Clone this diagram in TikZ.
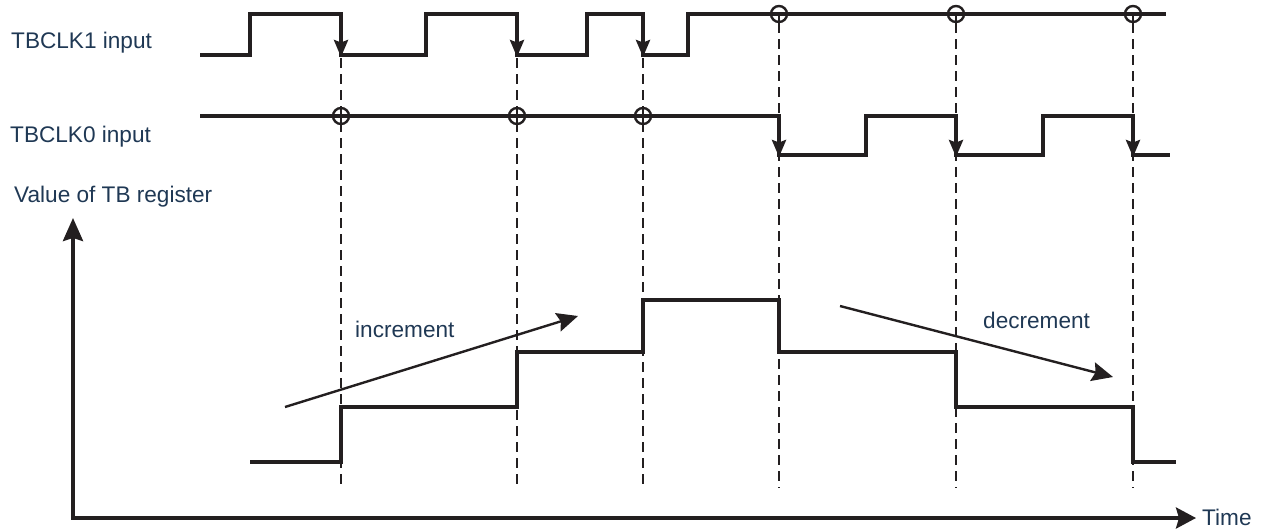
\documentclass[tikz,border=0pt]{standalone}
\usepackage{fontspec}
\setmainfont{Liberation Sans}
\usetikzlibrary{arrows.meta}
\definecolor{labelblue}{RGB}{31,56,84}
\definecolor{inkgray}{RGB}{35,31,32}

\begin{document}
\begin{tikzpicture}[x=1pt, y=-1pt, line join=miter,
    every node/.style={font=\fontsize{22.6}{27}\selectfont, text=labelblue, inner sep=0pt},
    sig/.style={inkgray, line width=3.4pt},
    guide/.style={inkgray, line width=2.8pt, dash pattern=on 10pt off 6pt},
    fall/.style={inkgray, line width=3.4pt, -{Stealth[length=17pt, width=14pt, inset=2.5pt]}},
    ring/.style={inkgray, line width=2.4pt},
    trend/.style={inkgray, line width=2.4pt, -{Stealth[length=21pt, width=19pt, inset=3pt]}},
    axis/.style={inkgray, line width=3.5pt}]
    \useasboundingbox (0,0) rectangle (1271,531);

    % Labels
    \node[anchor=base west] (clk1) at (11,48) {TBCLK1 input};
    \node[anchor=base west] (clk0) at (10,142) {TBCLK0 input};
    \node[anchor=base west] (tbval) at (14,202) {Value of TB register};
    \node[anchor=base west] (inc) at (355,337) {increment};
    \node[anchor=base west] (dec) at (983,328) {decrement};
    \node[anchor=base west] (time) at (1202,525) {Time};

    % Guide lines
    \foreach \x in {341,517,643} {
        \draw[guide] (\x,58) -- (\x,488);
    }
    \foreach \x in {779,956,1133} {
        \draw[guide] (\x,23) -- (\x,488);
    }

    % TBCLK1
    \draw[sig, line width=3.8pt] (200,55) -- (250,55) -- (250,14) -- (341,14) -- (341,55) -- (426,55) -- (426,14)
        -- (517,14) -- (517,55) -- (587,55) -- (587,14) -- (643,14) -- (643,55) -- (688,55) -- (688,14) -- (1166,14);
    \foreach \x in {341,517,643} {
        \draw[fall] (\x,14) -- (\x,57);
    }
    \foreach \x in {779,956,1133} {
        \draw[ring, fill=white] (\x,14) circle (8pt);
        \draw[ring] (\x,14) -- (\x,22);
        \draw[sig, line width=3.8pt] (\x-8,14) -- (\x+8,14);
    }

    % TBCLK0
    \draw[sig] (200,116) -- (779,116) -- (779,155) -- (866,155) -- (866,116) -- (956,116) -- (956,155)
        -- (1043,155) -- (1043,116) -- (1133,116) -- (1133,155) -- (1170,155);
    \foreach \x in {779,956,1133} {
        \draw[fall] (\x,116) -- (\x,157);
    }
    \foreach \x in {341,517,643} {
        \draw[ring] (\x,116) circle (8pt);
        \draw[ring] (\x,108) -- (\x,124);
    }

    % Value of TB
    \draw[sig] (250,462) -- (341,462) -- (341,407) -- (517,407) -- (517,352) -- (643,352) -- (643,300) -- (779,300)
        -- (779,352) -- (956,352) -- (956,407) -- (1133,407) -- (1133,462) -- (1176,462);
    \draw[trend] (285,407) -- (578,316);
    \draw[trend] (840,306) -- (1113,377);

    % Axes
    \draw[axis, {Stealth[length=23pt, width=20pt, inset=3pt]}-{Stealth[length=20pt, width=21pt, inset=3pt]}]
        (73,218) -- (73,518) -- (1196,518);
\end{tikzpicture}
\end{document}
